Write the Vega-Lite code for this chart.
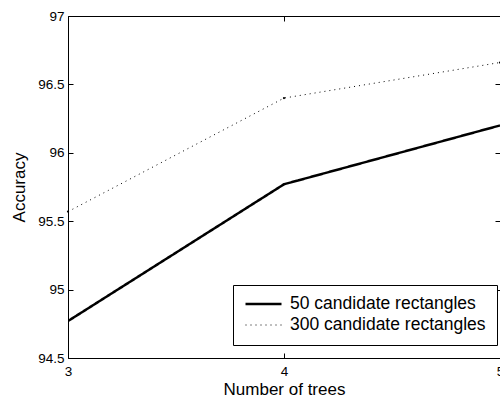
{
  "$schema": "https://vega.github.io/schema/vega-lite/v6.json",
  "width": 432,
  "height": 342,
  "autosize": {"type": "none"},
  "padding": {"left": 68, "top": 16, "right": 0, "bottom": 38},
  "background": "white",
  "config": {
    "font": "Liberation Sans",
    "view": {"stroke": "black", "strokeWidth": 1},
    "axis": {
      "grid": false,
      "domain": false,
      "tickColor": "black",
      "tickSize": -5,
      "tickWidth": 1,
      "labelColor": "black",
      "labelFontSize": 13.5,
      "titleColor": "black",
      "titleFontSize": 17,
      "titleFontWeight": "normal",
      "labelFont": "Liberation Sans",
      "titleFont": "Liberation Sans"
    }
  },
  "data": {
    "values": [
      {"trees": 3, "accuracy": 94.77, "series": "50 candidate rectangles"},
      {"trees": 4, "accuracy": 95.77, "series": "50 candidate rectangles"},
      {"trees": 5, "accuracy": 96.2, "series": "50 candidate rectangles"},
      {"trees": 3, "accuracy": 95.57, "series": "300 candidate rectangles"},
      {"trees": 4, "accuracy": 96.4, "series": "300 candidate rectangles"},
      {"trees": 5, "accuracy": 96.66, "series": "300 candidate rectangles"}
    ]
  },
  "resolve": {"axis": {"x": "independent", "y": "independent"}},
  "layer": [
    {
      "mark": {"type": "line", "color": "black", "clip": true},
      "encoding": {
        "x": {
          "field": "trees", "type": "quantitative",
          "scale": {"domain": [3, 5], "nice": false, "zero": false},
          "axis": {"orient": "bottom", "values": [3, 4, 5], "format": "~g", "title": "Number of trees", "labelPadding": 11, "titlePadding": 4, "labelFlush": false}
        },
        "y": {
          "field": "accuracy", "type": "quantitative",
          "scale": {"domain": [94.5, 97], "nice": false, "zero": false},
          "axis": {"orient": "left", "values": [94.5, 95, 95.5, 96, 96.5, 97], "format": "~g", "title": "Accuracy", "labelPadding": 9, "titlePadding": 9}
        },
        "strokeDash": {
          "field": "series", "type": "nominal",
          "scale": {"domain": ["50 candidate rectangles", "300 candidate rectangles"], "range": [[1, 0], [1, 4]]},
          "legend": {
            "title": null,
            "orient": "none",
            "legendX": 165,
            "legendY": 269,
            "fillColor": "white",
            "strokeColor": "black",
            "padding": 11,
            "labelFontSize": 17.5,
            "labelColor": "black",
            "labelOffset": 7,
            "labelLimit": 400,
            "symbolType": "stroke",
            "symbolSize": 1296,
            "symbolStrokeColor": "black",
            "clipHeight": 16,
            "rowPadding": 3,
            "labelFont": "Liberation Sans"
          }
        },
        "strokeWidth": {
          "field": "series", "type": "nominal",
          "scale": {"domain": ["50 candidate rectangles", "300 candidate rectangles"], "range": [2.5, 1]},
          "legend": {
            "title": null,
            "orient": "none",
            "legendX": 165,
            "legendY": 269
          }
        }
      }
    },
    {
      "transform": [{"filter": "datum.series === '300 candidate rectangles'"}],
      "mark": {"type": "point", "filled": true, "color": "black", "size": 5, "opacity": 1},
      "encoding": {
        "x": {
          "field": "trees", "type": "quantitative",
          "axis": {"orient": "top", "values": [3, 4, 5], "labels": false, "title": null}
        },
        "y": {
          "field": "accuracy", "type": "quantitative",
          "axis": {"orient": "right", "values": [94.5, 95, 95.5, 96, 96.5, 97], "labels": false, "title": null}
        }
      }
    }
  ]
}
